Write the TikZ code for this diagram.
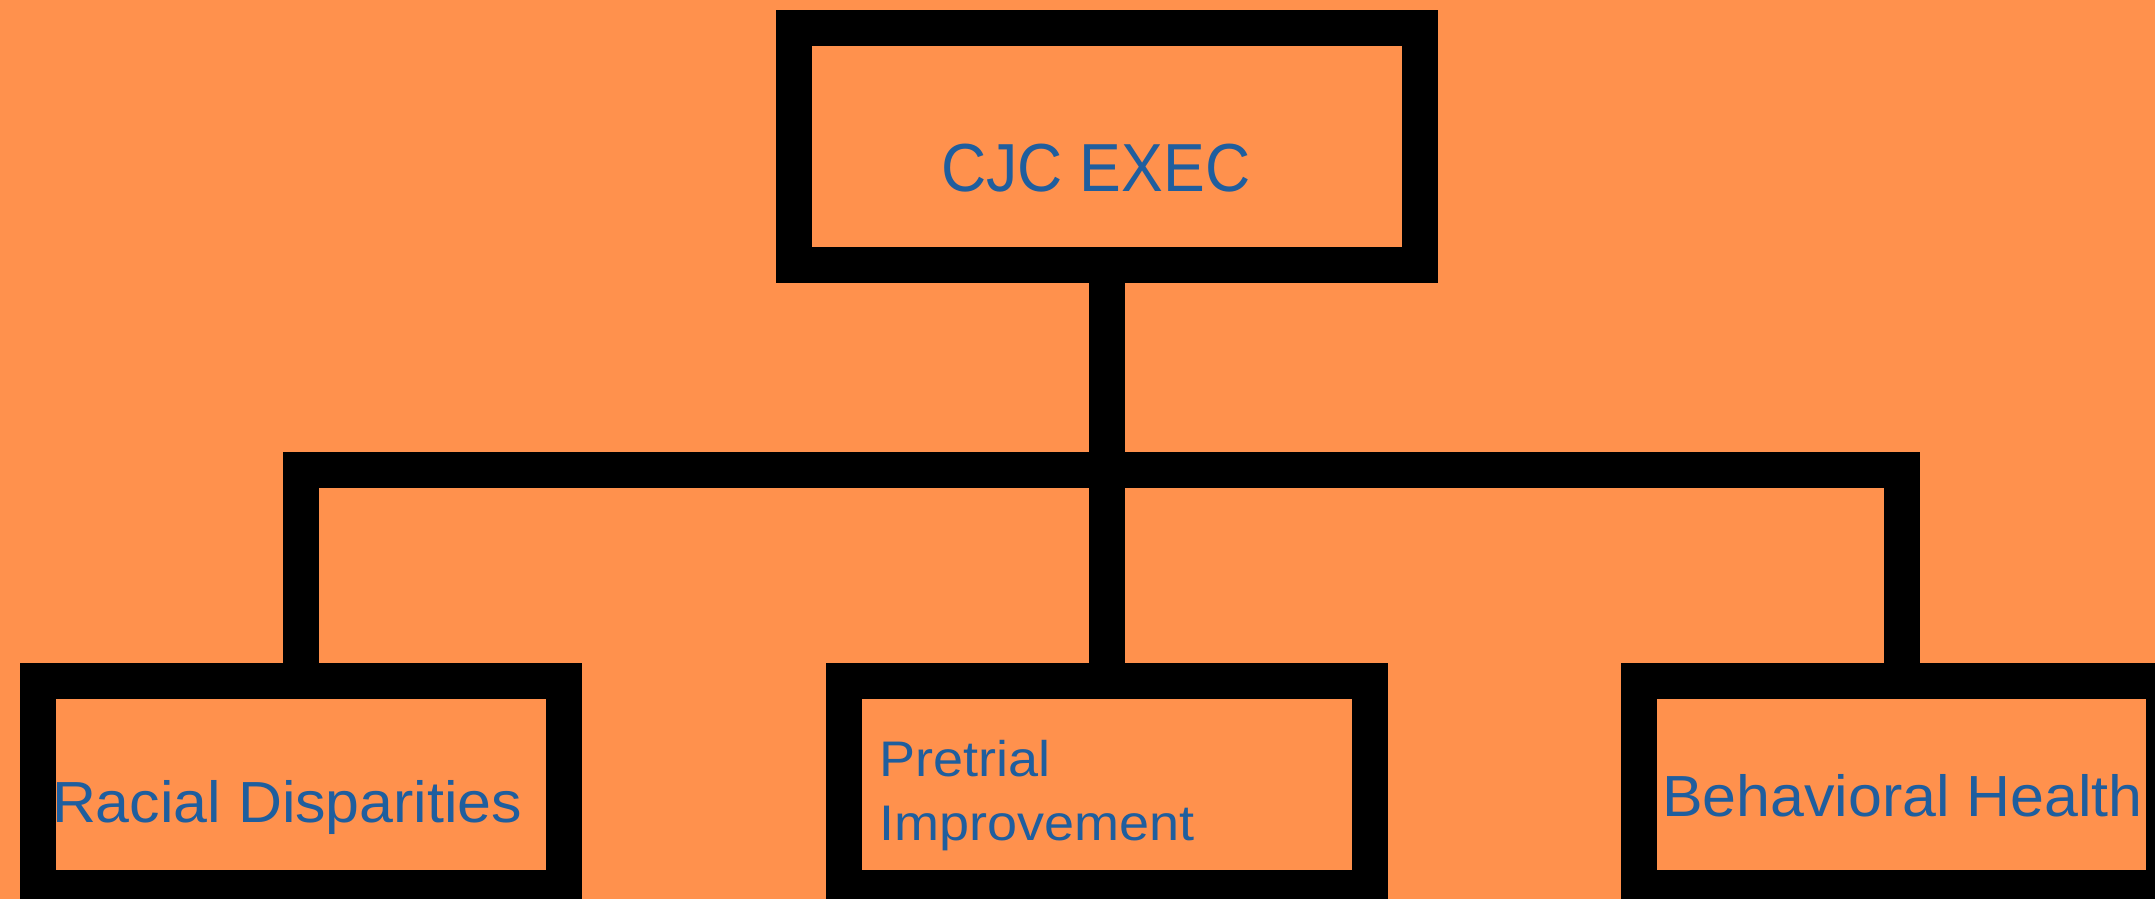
\documentclass[tikz,border=0pt]{standalone}
\usepackage{fontspec}
\setmainfont{Liberation Sans}
\newfontfamily\cjcfont[FakeStretch=0.92]{Liberation Sans}
\newfontfamily\widefont[FakeStretch=1.05]{Liberation Sans}
\newfontfamily\ptfont[FakeStretch=1.08]{Liberation Sans}
\definecolor{bgorange}{HTML}{FF914D}
\definecolor{txtblue}{HTML}{1F5E9E}
\begin{document}
\begin{tikzpicture}[x=1pt,y=-1pt,
  box/.style={draw=black,line width=36pt,rectangle,inner sep=0pt,outer sep=0pt,
    minimum width=525.5pt,minimum height=207pt},
  link/.style={draw=black,line width=36pt,line join=miter,line cap=butt},
  lbl/.style={anchor=base west,inner sep=0pt,outer sep=0pt,text=txtblue}]
\useasboundingbox (0,0) rectangle (2155,899);
\fill[bgorange] (0,0) rectangle (2155,899);
\clip (0,0) rectangle (2155,899);
% boxes
\node[box,minimum width=626.3pt,minimum height=236.7pt] (cjc) at (1107,146.3) {};
\node[box] (rd) at (301,784.5) {};
\node[box] (pi) at (1107,784.5) {};
\node[box] (bh) at (1901.5,784.5) {};
\coordinate (bar) at (1107,469.7);
% connectors
\draw[link] (cjc.south) -- (pi.north);
\draw[link] (rd.north) |- (bar) -| (bh.north);
% labels
\node[lbl,font=\cjcfont\fontsize{68}{80}\selectfont] (t0) at (941,191) {CJC EXEC};
\node[lbl,font=\widefont\fontsize{58}{68}\selectfont] (t1) at (52,822) {Racial Disparities};
\node[lbl,font=\ptfont\fontsize{50}{64}\selectfont] (t2a) at (879,776) {Pretrial};
\node[lbl,font=\ptfont\fontsize{50}{64}\selectfont] (t2b) at (879,840) {Improvement};
\node[lbl,font=\widefont\fontsize{58}{68}\selectfont] (t3) at (1662,816) {Behavioral Health};
\end{tikzpicture}
\end{document}
